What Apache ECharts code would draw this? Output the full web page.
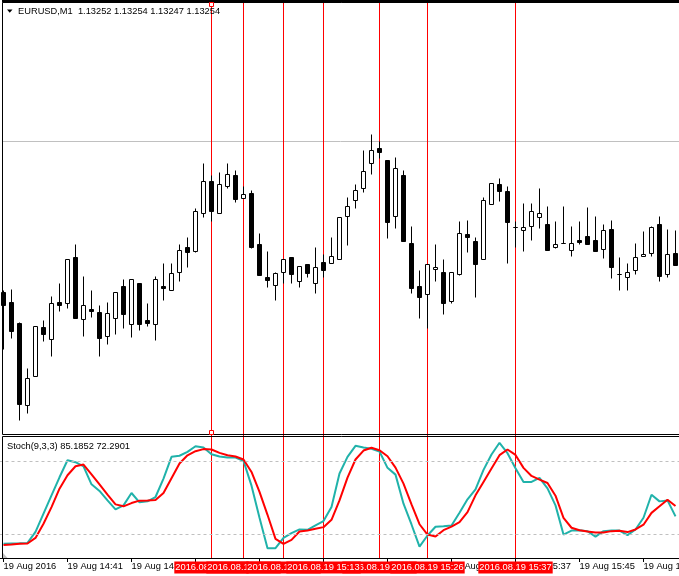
<!DOCTYPE html>
<html><head><meta charset="utf-8">
<script src="https://cdn.jsdelivr.net/npm/echarts@6/dist/echarts.min.js"></script>
<style>html,body{margin:0;padding:0;background:#fff;overflow:hidden}#c{width:679px;height:576px}</style>
</head><body><div id="c"></div>
<script>
// ---- data ----
const categories = [];
(function(){ for (let i = 0; i < 85; i++) { const m = 33 + i; const h = 14 + Math.floor(m / 60); const mm = m % 60; categories.push(h + ':' + (mm < 10 ? '0' : '') + mm); } })();

const opens = [1.13008,1.12998,1.12977,1.12895,1.12924,1.12973,1.12961,1.12998,1.12997,1.13043,
1.12981,1.12991,1.12988,1.12964,1.12982,1.13014,1.12976,1.13017,1.12980,1.12976,
1.13014,1.13010,1.13028,1.13053,1.13049,1.13087,1.13119,1.13087,1.13114,1.13125,
1.13102,1.13107,1.13056,1.13023,1.13015,1.13028,1.13043,1.13019,1.13036,1.13017,
1.13038,1.13037,1.13041,1.13084,1.13100,1.13112,1.13137,1.13152,1.13140,1.13084,
1.13125,1.13057,1.13014,1.13006,1.13031,1.13028,1.12999,1.13026,1.13066,1.13059,
1.13041,1.13096,1.13116,1.13109,1.13073,1.13070,1.13074,1.13083,1.13076,1.13053,
1.13057,1.13050,1.13060,1.13064,1.13060,1.13051,1.13071,1.13026,1.13023,1.13030,
1.13044,1.13047,1.13076,1.13026,1.13047];
const closes = [1.12995,1.12969,1.12896,1.12922,1.12974,1.12966,1.12997,1.12995,1.13041,1.12982,
1.12995,1.12989,1.12962,1.12987,1.13008,1.12986,1.13021,1.12976,1.12977,1.13021,
1.13012,1.13027,1.13050,1.13048,1.13089,1.13119,1.13089,1.13116,1.13126,1.13101,
1.13106,1.13053,1.13025,1.13020,1.13027,1.13041,1.13026,1.13034,1.13027,1.13033,
1.13030,1.13044,1.13083,1.13094,1.13110,1.13129,1.13150,1.13148,1.13078,1.13132,
1.13059,1.13012,1.13003,1.13036,1.13033,1.12997,1.13028,1.13067,1.13063,1.13036,
1.13100,1.13117,1.13109,1.13078,1.13073,1.13073,1.13089,1.13087,1.13050,1.13056,
1.13057,1.13057,1.13058,1.13056,1.13049,1.13070,1.13033,1.13026,1.13028,1.13043,
1.13046,1.13073,1.13024,1.13046,1.13035];
const lows = [1.12951,1.12962,1.12880,1.12887,1.12924,1.12959,1.12944,1.12989,1.12992,1.12982,
1.12964,1.12983,1.12944,1.12956,1.12966,1.12972,1.12963,1.12970,1.12974,1.12960,
1.13000,1.13010,1.13019,1.13033,1.13048,1.13083,1.13079,1.13087,1.13112,1.13098,
1.13102,1.13052,1.13025,1.13013,1.13000,1.13017,1.13017,1.13013,1.13023,1.13007,
1.13023,1.13037,1.13041,1.13055,1.13092,1.13108,1.13126,1.13142,1.13062,1.13072,
1.13059,1.13007,1.12982,1.12972,1.13019,1.12986,1.12997,1.13025,1.13048,1.13003,
1.13041,1.13096,1.13099,1.13037,1.13053,1.13049,1.13060,1.13072,1.13050,1.13052,
1.13057,1.13044,1.13056,1.13056,1.13049,1.13042,1.13022,1.13010,1.13010,1.13026,
1.13044,1.13044,1.13019,1.13023,1.13035];
const highs = [1.13010,1.13011,1.12978,1.12932,1.12974,1.12980,1.13004,1.13017,1.13041,1.13056,
1.13024,1.13010,1.12995,1.12998,1.13008,1.13021,1.13021,1.13017,1.12997,1.13024,
1.13037,1.13037,1.13056,1.13063,1.13092,1.13137,1.13125,1.13128,1.13137,1.13130,
1.13114,1.13110,1.13067,1.13049,1.13028,1.13041,1.13043,1.13034,1.13036,1.13053,
1.13046,1.13063,1.13083,1.13103,1.13116,1.13150,1.13166,1.13159,1.13140,1.13143,
1.13130,1.13074,1.13030,1.13036,1.13056,1.13041,1.13028,1.13079,1.13080,1.13063,
1.13103,1.13117,1.13122,1.13114,1.13079,1.13097,1.13097,1.13112,1.13094,1.13079,
1.13094,1.13074,1.13079,1.13093,1.13084,1.13076,1.13080,1.13043,1.13037,1.13057,
1.13069,1.13074,1.13084,1.13071,1.13070];

const stochMain = [11.7,12.0,12.2,12.5,21.6,36.6,51.8,66.7,80.8,79.2,
75.8,60.9,55.4,47.6,40.2,43.5,53.7,46.0,46.8,50.4,
65.6,83.6,84.5,87.7,92.4,91.3,85.8,83.9,83.0,83.0,
80.3,59.8,33.3,8.1,8.1,16.6,20.5,23.6,23.3,26.9,
30.5,42.1,69.8,83.6,92.7,91.3,90.2,88.0,74.5,68.9,
44.9,27.7,9.4,18.6,25.8,26.3,26.9,37.4,48.5,56.8,
72.8,85.5,95.2,86.6,74.2,62.9,62.9,66.2,57.6,43.5,
19.4,22.7,23.0,22.2,17.7,22.2,22.7,22.7,18.9,23.6,
33.3,52.3,46.8,47.6,34.4];
const stochSignal = [10.8,11.1,11.7,12.0,16.6,28.3,42.1,57.3,68.4,75.8,
77.2,69.2,60.9,52.4,44.3,42.7,45.4,47.4,47.6,47.9,
53.7,65.9,78.1,84.9,88.3,90.0,89.7,86.9,84.9,83.9,
81.4,71.1,54.6,35.7,15.8,11.7,15.0,21.9,22.7,24.1,
25.5,31.6,47.6,66.4,81.4,88.8,91.1,89.1,84.1,74.7,
61.5,44.3,27.9,19.4,17.7,23.0,26.0,29.7,37.9,51.8,
62.9,73.9,85.0,89.7,85.2,74.5,67.8,64.8,62.0,51.5,
33.2,25.0,23.0,21.9,21.1,21.1,22.2,22.5,21.4,23.6,
27.5,37.3,42.7,48.2,42.9];

const stochLevels = [80, 20];
const priceLine = 1.13159;
const priceMin = 1.12866, priceMax = 1.13297;
// vertical line objects (drawing order: first is at the bottom)
const vlineIdx = [47, 26, 30, 35, 40, 53, 64];
const selectedIdx = 26;
const headerText = 'EURUSD,M1  1.13252 1.13254 1.13247 1.13254';
const stochText = 'Stoch(9,3,3) 85.1852 72.2901';
const datePrefix = '2016.08.19 ';
const firstLabel = '19 Aug 2016';
const labelPrefix = '19 Aug ';

// ---- chart ----
const FONT = '"Liberation Sans", Arial, sans-serif';
const FS = 9.3;
const chart = echarts.init(document.getElementById('c'), null, {renderer: 'canvas'});
const candleData = opens.map((o, i) => [o, closes[i], lows[i], highs[i]]);

chart.setOption({
  animation: false,
  backgroundColor: '#fff',
  grid: [
    {left: -0.5, top: 3.5, width: 680, height: 431, containLabel: false, outerBoundsMode: 'none'},
    {left: -0.5, top: 437, width: 680, height: 121, containLabel: false, outerBoundsMode: 'none'}
  ],
  xAxis: [
    {type: 'category', gridIndex: 0, data: categories, boundaryGap: true, show: false},
    {type: 'category', gridIndex: 1, data: categories, boundaryGap: true,
     axisLine: {show: true, lineStyle: {color: '#000', width: 1}},
     axisTick: {show: true, alignWithLabel: true, interval: 7, length: 4, lineStyle: {color: '#000'}},
     axisLabel: {interval: 7, align: 'left', margin: 4, color: '#000', fontFamily: FONT, fontSize: FS,
       hideOverlap: false,
       formatter: (v, i) => i === 0 ? firstLabel : labelPrefix + v},
     splitLine: {show: false}}
  ],
  yAxis: [
    {type: 'value', gridIndex: 0, min: priceMin, max: priceMax, show: false, splitLine: {show: false}},
    {type: 'value', gridIndex: 1, min: 0, max: 100, show: false, splitLine: {show: false}}
  ],
  series: [
    {type: 'candlestick', xAxisIndex: 0, yAxisIndex: 0, data: candleData, barWidth: 4,
     itemStyle: {color: '#fff', color0: '#000', borderColor: '#000', borderColor0: '#000', borderColorDoji: '#000', borderWidth: 1},
     emphasis: {disabled: true}},
    {type: 'line', xAxisIndex: 1, yAxisIndex: 1, data: stochMain, symbol: 'none', silent: true,
     lineStyle: {color: '#20b2aa', width: 2}, z: 3,
     markLine: {silent: true, symbol: 'none', label: {show: false},
       lineStyle: {color: '#c0c0c0', type: [3, 3], width: 1},
       data: stochLevels.map(v => ({yAxis: v}))}},
    {type: 'line', xAxisIndex: 1, yAxisIndex: 1, data: stochSignal, symbol: 'none', silent: true,
     lineStyle: {color: '#ff0000', width: 2}, z: 4}
  ]
});

const els = [];
// price line
{
  const y = Math.round(chart.convertToPixel({yAxisIndex: 0}, priceLine)) + 0.5;
  els.push({type: 'line', z: 0, silent: true, shape: {x1: 2, y1: y, x2: 679, y2: y}, style: {stroke: '#c0c0c0', lineWidth: 1}});
}
// frames
els.push({type: 'rect', z: 50, silent: true, shape: {x: 2, y: 0, width: 677, height: 2.5}, style: {fill: '#000'}});
els.push({type: 'rect', z: 50, silent: true, shape: {x: 2.5, y: 2.5, width: 700, height: 432}, style: {fill: null, stroke: '#000', lineWidth: 1}});
els.push({type: 'rect', z: 50, silent: true, shape: {x: 2.5, y: 436.5, width: 700, height: 122}, style: {fill: null, stroke: '#000', lineWidth: 1}});
// vertical lines
vlineIdx.forEach(i => {
  const x = chart.convertToPixel({xAxisIndex: 1}, i);
  els.push({type: 'line', z: 1, silent: true, shape: {x1: x, y1: 2, x2: x, y2: 558}, style: {stroke: '#ff0000', lineWidth: 1}});
});
// date labels of vertical lines
vlineIdx.forEach((i, k) => {
  const x = chart.convertToPixel({xAxisIndex: 1}, i);
  els.push({type: 'text', z: 60, z2: k, silent: true, x: x, y: 567.5,
    style: {text: datePrefix + categories[i], fill: '#fff', backgroundColor: '#ff0000',
      padding: [1, 1, 1, 1], align: 'center', verticalAlign: 'middle', fontSize: FS, fontFamily: FONT, lineHeight: 10}});
});
// selection handles
{
  const x = chart.convertToPixel({xAxisIndex: 1}, selectedIdx);
  els.push({type: 'rect', z: 55, silent: true, shape: {x: x - 2, y: 2.5, width: 4, height: 4}, style: {fill: '#fff', stroke: '#ff0000', lineWidth: 1}});
  els.push({type: 'rect', z: 55, silent: true, shape: {x: x - 2, y: 430.5, width: 4, height: 4}, style: {fill: '#fff', stroke: '#ff0000', lineWidth: 1}});
}
// header
els.push({type: 'polygon', z: 55, silent: true, shape: {points: [[7, 9.5], [12.5, 9.5], [9.75, 12.7]]}, style: {fill: '#000'}});
els.push({type: 'text', z: 55, silent: true, x: 18, y: 11, style: {text: headerText, fill: '#000', fontSize: FS, fontFamily: FONT, verticalAlign: 'middle'}});
els.push({type: 'text', z: 55, silent: true, x: 7, y: 446, style: {text: stochText, fill: '#000', fontSize: FS, fontFamily: FONT, verticalAlign: 'middle'}});
els.push({type: 'polygon', z: 55, silent: true, shape: {points: [[3, 553], [3, 558], [7.5, 558]]}, style: {fill: '#c0c0c0'}});

chart.setOption({graphic: {elements: els}});
</script>
</body></html>
